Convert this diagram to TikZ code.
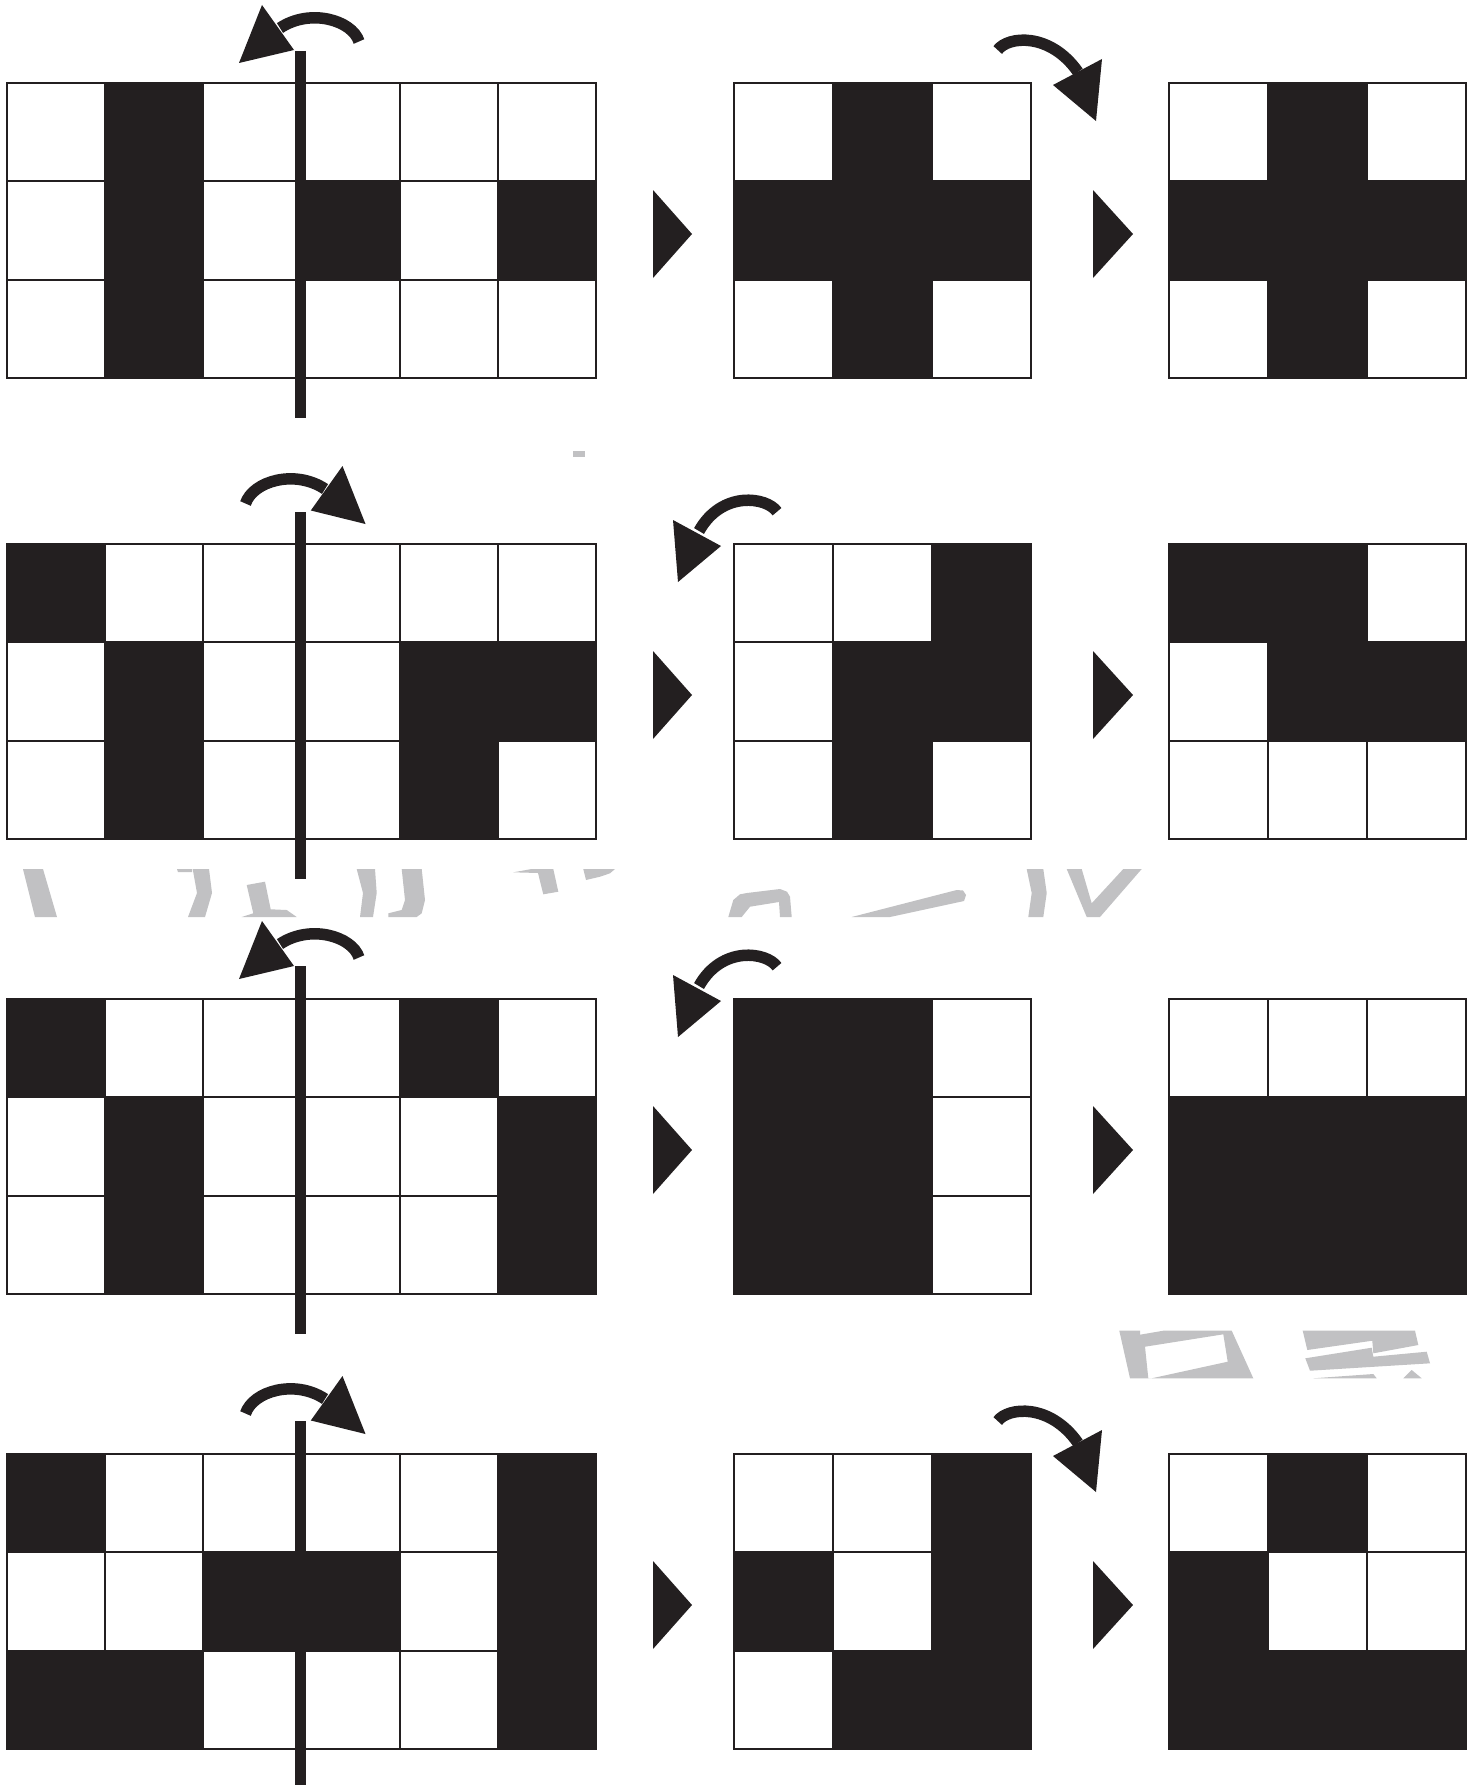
\documentclass[tikz,border=0pt]{standalone}
\definecolor{ink}{RGB}{35,31,32}
\definecolor{wm}{RGB}{193,193,195}
\tikzset{
  cellwhite/.style={fill=white,draw=ink,line width=2pt},
  cellblack/.style={fill=ink,draw=ink,line width=2pt},
  axisline/.style={draw=ink,line width=11pt},
  shaft/.style={draw=ink,line width=11.5pt},
  arrowhead/.style={fill=ink},
  playtri/.style={fill=ink},
  wmark/.style={fill=wm},
}
% #1 x0, #2 y0, #3 cell width, #4 number of columns, #5 black cells col/row
\newcommand\drawgrid[5]{%
  \foreach \cc in {1,...,#4}{\foreach \rr in {1,2,3}{%
    \path[cellwhite] ({#1+(\cc-1)*#3},{#2+(\rr-1)*98.3}) rectangle ++(#3,98.3);}}
  \foreach \cc/\rr in {#5}{%
    \path[cellblack] ({#1+(\cc-1)*#3},{#2+(\rr-1)*98.3}) rectangle ++(#3,98.3);}
}
\newcommand\flipL{%
  \draw[shaft] (359,41.5) .. controls (352,20) and (310,8) .. (280,28);
  \fill[arrowhead] (239,63) -- (262,5) -- (294,50) -- cycle;}
\newcommand\flipR{%
  \draw[shaft] (245.5,503.5) .. controls (253,481) and (295,469) .. (325,489);
  \fill[arrowhead] (365.5,524) -- (342.5,466) -- (310.8,510.5) -- cycle;}
\newcommand\turnR{%
  \draw[shaft] (997.7,50) .. controls (1008,36) and (1050,32) .. (1078,72);
  \fill[arrowhead] (1096,121) -- (1102,59) -- (1053,85) -- cycle;}
\newcommand\turnL{%
  \draw[shaft] (777,511.7) .. controls (767,497) and (722,490) .. (699,531);
  \fill[arrowhead] (678,582) -- (673,520) -- (721,546) -- cycle;}
\newcommand\playpair{%
  \fill[playtri] (653,190) -- (653,278) -- (692,234) -- cycle;
  \fill[playtri] (1093,190) -- (1093,278) -- (1133,234) -- cycle;}

\begin{document}
\begin{tikzpicture}[x=1pt,y=-1pt]
\path[use as bounding box,fill=white] (0,0) rectangle (1477,1785);

% faint watermark fragments
\fill[wmark] (573,451) rectangle (585,457);
\fill[wmark] (23,869) -- (43,869) -- (57,917) -- (35,917) -- cycle;
\fill[wmark] (177,869) -- (192,869) -- (192,872) -- (178,872) -- cycle;
\fill[wmark] (192.7,869) -- (209,869) -- (212,893) -- (205,917) -- (188,917) -- (197,893) -- cycle;
\fill[wmark] (246.7,885) -- (265,881.7) -- (270.7,909.3) -- (286.7,910) -- (296.7,917) -- (241.7,917) -- (253.3,913.3) -- cycle;
\fill[wmark] (356.7,869) -- (375,869) -- (376.7,893) -- (373,917) -- (360,917) -- (363,893) -- cycle;
\fill[wmark] (401.7,869) -- (421.7,869) -- (425,900) -- (421.7,913.3) -- (416.7,917) -- (388.3,917) -- (388.3,913.3) -- (401.7,910) -- (405,900) -- cycle;
\fill[wmark] (513.3,872.3) -- (531.7,869) -- (553.3,869) -- (558.3,891.7) -- (543.3,894.3) -- (538,873) -- cycle;
\fill[wmark] (583.3,869) -- (615,869) -- (610,873.3) -- (600,876.7) -- (586,880) -- cycle;
\fill[wmark] (728.3,917) -- (733.3,900) -- (740,894.3) -- (747,893) -- (780,889) -- (787,891.7) -- (790,896.7) -- (791.7,917) -- (780,917) -- (779,902) -- (750,906.7) -- (741.7,917) -- cycle;
\fill[wmark] (851.7,917) -- (956.7,890) -- (963,890.5) -- (966,895) -- (964,901) -- (890,917) -- cycle;
\fill[wmark] (1026.7,869) -- (1043.3,869) -- (1046.7,893) -- (1043.3,917) -- (1028.3,917) -- (1031.7,893) -- cycle;
\fill[wmark] (1066.7,869) -- (1081.7,869) -- (1091.7,903.3) -- (1123.3,869) -- (1141.7,869) -- (1100,917) -- (1086.7,917) -- cycle;
\fill[wmark,even odd rule] (1119.3,1330.7) -- (1140,1330.7) -- (1140,1334.7) -- (1163.3,1330.7) -- (1231.7,1330.7) -- (1253.3,1378.3) -- (1130,1378.3) -- cycle
  (1145,1346.7) -- (1223.3,1334.3) -- (1227.7,1361.7) -- (1151.7,1378.3) -- (1148.3,1378.3) -- cycle;
\fill[wmark] (1302.7,1330.7) -- (1415,1330.7) -- (1418.3,1345) -- (1373.3,1353.3) -- (1372.3,1340.7) -- (1307.3,1350) -- cycle;
\fill[wmark] (1305.3,1358.3) -- (1371.7,1347.7) -- (1373.3,1356.7) -- (1426.7,1351.7) -- (1430,1363.3) -- (1310,1370.7) -- cycle;
\fill[wmark] (1313.3,1378.3) -- (1373.3,1374) -- (1376.7,1378.3) -- cycle;
\fill[wmark] (1403.3,1378.3) -- (1411.7,1370) -- (1421.7,1378.3) -- cycle;

% row 1
\drawgrid{7}{83}{98.2}{6}{2/1,2/2,2/3,4/2,6/2}
\drawgrid{734}{83}{99}{3}{2/1,1/2,2/2,3/2,2/3}
\drawgrid{1169}{83}{99}{3}{2/1,1/2,2/2,3/2,2/3}
% row 2
\drawgrid{7}{544}{98.2}{6}{1/1,2/2,5/2,6/2,2/3,5/3}
\drawgrid{734}{544}{99}{3}{3/1,2/2,3/2,2/3}
\drawgrid{1169}{544}{99}{3}{1/1,2/1,2/2,3/2}
% row 3
\drawgrid{7}{999}{98.2}{6}{1/1,5/1,2/2,6/2,2/3,6/3}
\drawgrid{734}{999}{99}{3}{1/1,2/1,1/2,2/2,1/3,2/3}
\drawgrid{1169}{999}{99}{3}{1/2,2/2,3/2,1/3,2/3,3/3}
% row 4
\drawgrid{7}{1454}{98.2}{6}{1/1,6/1,3/2,4/2,6/2,1/3,2/3,6/3}
\drawgrid{734}{1454}{99}{3}{3/1,1/2,3/2,2/3,3/3}
\drawgrid{1169}{1454}{99}{3}{2/1,1/2,1/3,2/3,3/3}

% axes
\draw[axisline] (300,51) -- (300,418);
\draw[axisline] (300,512) -- (300,879);
\draw[axisline] (300,966) -- (300,1334);
\draw[axisline] (300,1421) -- (300,1785);

% rotation arrows
\flipL
\turnR
\flipR
\turnL
\begin{scope}[shift={(0,916)}]\flipL\end{scope}
\begin{scope}[shift={(0,455)}]\turnL\end{scope}
\begin{scope}[shift={(0,910)}]\flipR\end{scope}
\begin{scope}[shift={(0,1371)}]\turnR\end{scope}

% step triangles
\playpair
\begin{scope}[shift={(0,461)}]\playpair\end{scope}
\begin{scope}[shift={(0,916)}]\playpair\end{scope}
\begin{scope}[shift={(0,1371)}]\playpair\end{scope}
\end{tikzpicture}
\end{document}
